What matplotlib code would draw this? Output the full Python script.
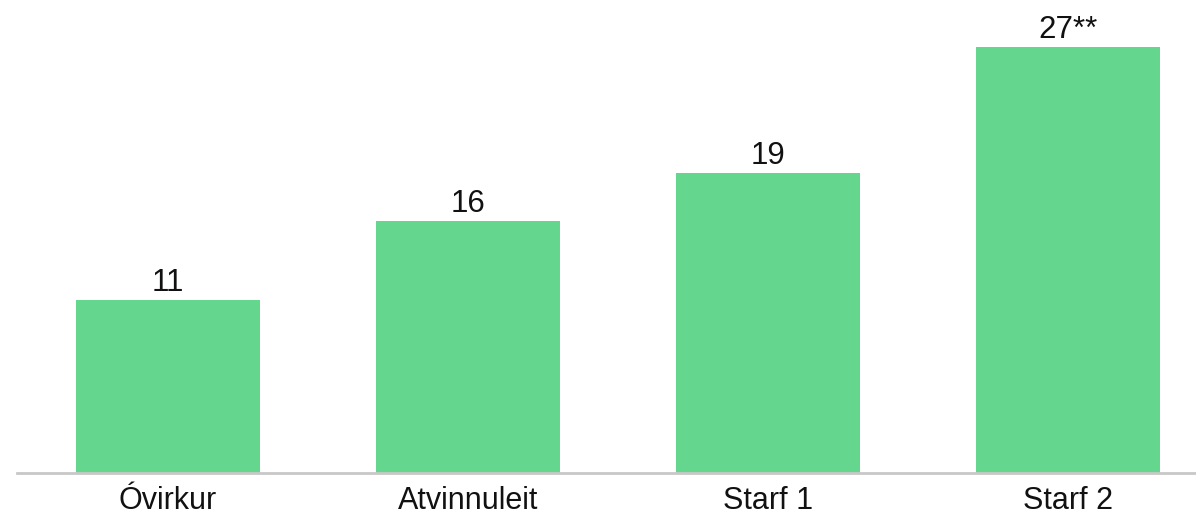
import matplotlib
matplotlib.use("Agg")
import matplotlib.pyplot as plt

categories = ["Óvirkur", "Atvinnuleit", "Starf 1", "Starf 2"]
values = [11, 16, 19, 27]
value_labels = ["11", "16", "19", "27**"]

plt.rcParams["font.family"] = ["Liberation Sans", "DejaVu Sans"]

W, H = 1196, 515
fig = plt.figure(figsize=(W / 100, H / 100), dpi=100)
ax = fig.add_axes([17 / W, 42 / H, 1179 / W, 473 / H])

x = list(range(len(categories)))
bars = ax.bar(x, values, width=0.613, color="#65d68e", zorder=2)

for rect, lab in zip(bars, value_labels):
    ax.annotate(lab, (rect.get_x() + rect.get_width() / 2, rect.get_height()),
                xytext=(0, 6.5), textcoords="offset points",
                ha="center", va="baseline", fontsize=22.5, color="#111111")

ax.set_xlim(-0.503, 3.427)
ax.set_ylim(0, 30)
ax.set_xticks(x)
ax.set_xticklabels(categories, fontsize=22, color="#111111")
ax.tick_params(axis="x", length=0, pad=9.5)
ax.set_yticks([])

for side in ("left", "right", "top"):
    ax.spines[side].set_visible(False)
ax.spines["bottom"].set_color("#c8c8c8")
ax.spines["bottom"].set_linewidth(2)
ax.spines["bottom"].set_zorder(3)

fig.savefig("out.png", dpi=100)
